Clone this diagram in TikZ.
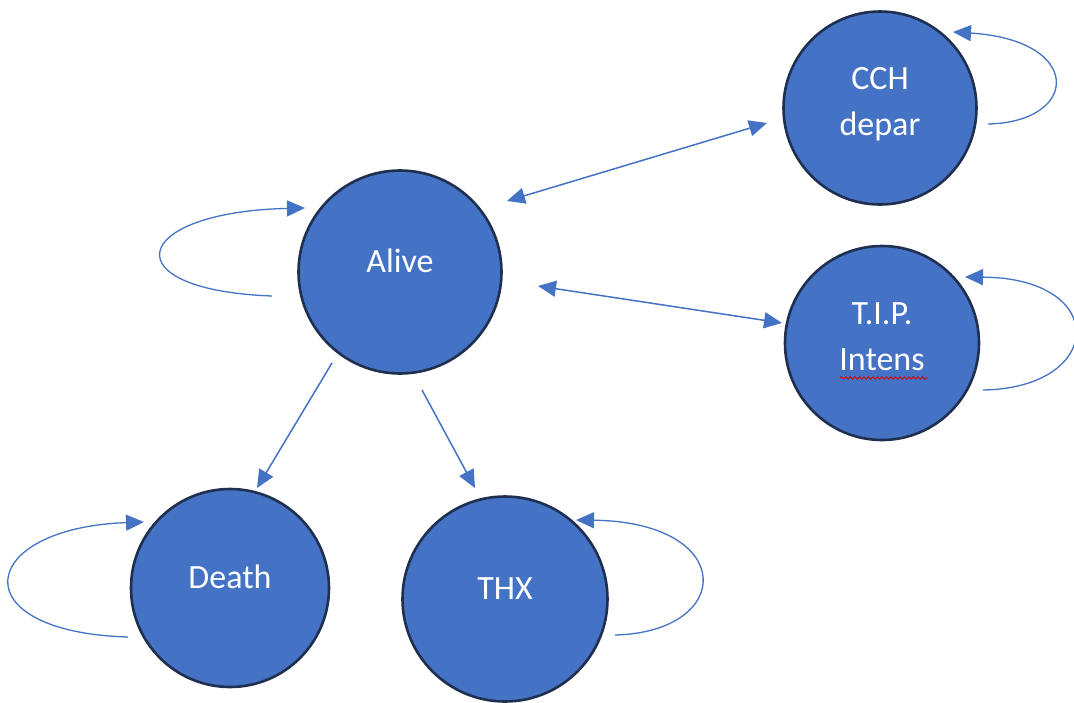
\documentclass[tikz,border=0pt]{standalone}
\usepackage{fontspec}
\setmainfont{Carlito}
\usetikzlibrary{arrows.meta,decorations.pathmorphing}
\definecolor{stfill}{HTML}{4472C4}
\definecolor{stborder}{HTML}{1F2F4F}
\definecolor{arrowblue}{HTML}{4472C4}
\newcommand\onel[1]{\raisebox{0pt}[12pt][12pt]{#1}}
\newcommand\twol[2]{\raisebox{0pt}[60pt][6pt]{\begin{tabular}[b]{@{}c@{}}#1\\#2\end{tabular}}}
\tikzset{
  state/.style={circle, draw=stborder, line width=2.6pt, fill=stfill, text=white,
    inner sep=0pt, font=\fontsize{34}{46}\selectfont},
  conn/.style={draw=arrowblue, line width=1.5pt},
  tip/.style={-{Triangle[length=18pt,width=16pt]}},
  dtip/.style={{Triangle[length=18pt,width=16pt]}-{Triangle[length=18pt,width=16pt]}},
  loopline/.style={draw=arrowblue, line width=1.3pt, -{Triangle[length=18pt,width=16pt]}}
}
\begin{document}
\begin{tikzpicture}[x=1pt,y=-1pt]
\useasboundingbox (0,0) rectangle (1074,702);
% states
\node[state, minimum size=203pt] (alive) at (400,272) {\onel{Alive}};
\node[state, minimum size=193pt] (cch) at (880,108) {\twol{CCH}{depar}};
\node[state, minimum size=194pt] (tip) at (882,343) {\twol{T.I.P.}{Intens}};
\node[state, minimum size=198pt] (death) at (230,588) {\onel{Death}};
\node[state, minimum size=205pt] (thx) at (505,599) {\onel{THX}};
% spellcheck underline
\coordinate (sq1) at (840,378);
\coordinate (sq2) at (928,378);
\draw[red!85!black, line width=0.8pt, decorate, decoration={snake, amplitude=1.3pt, segment length=4.5pt}] (sq1) -- (sq2);
% connector end points
\coordinate (acA) at (507,201);
\coordinate (acC) at (767,123);
\coordinate (atA) at (538,286);
\coordinate (atT) at (782,323);
\coordinate (adA) at (332,363);
\coordinate (adD) at (257,488);
\coordinate (axA) at (422,390);
\coordinate (axX) at (475,488);
\draw[conn, dtip] (acA) -- (acC);
\draw[conn, dtip] (atA) -- (atT);
\draw[conn, tip] (adA) -- (adD);
\draw[conn, tip] (axA) -- (axX);
% self loops
\coordinate (lA1) at (272,296);
\coordinate (lA2) at (305,208);
\draw[loopline] (lA1) .. controls (110,290) and (130,212) .. (lA2);
\coordinate (lC1) at (988,124);
\coordinate (lC2) at (953,32);
\draw[loopline] (lC1) .. controls (1080,122) and (1084,40) .. (lC2);
\coordinate (lT1) at (983,390);
\coordinate (lT2) at (965,277);
\draw[loopline] (lT1) .. controls (1105,388) and (1110,278) .. (lT2);
\coordinate (lD1) at (128,637);
\coordinate (lD2) at (144,522);
\draw[loopline] (lD1) .. controls (-40,632) and (-24,528) .. (lD2);
\coordinate (lX1) at (615,635);
\coordinate (lX2) at (576,520);
\draw[loopline] (lX1) .. controls (735,632) and (737,522) .. (lX2);
\end{tikzpicture}
\end{document}
